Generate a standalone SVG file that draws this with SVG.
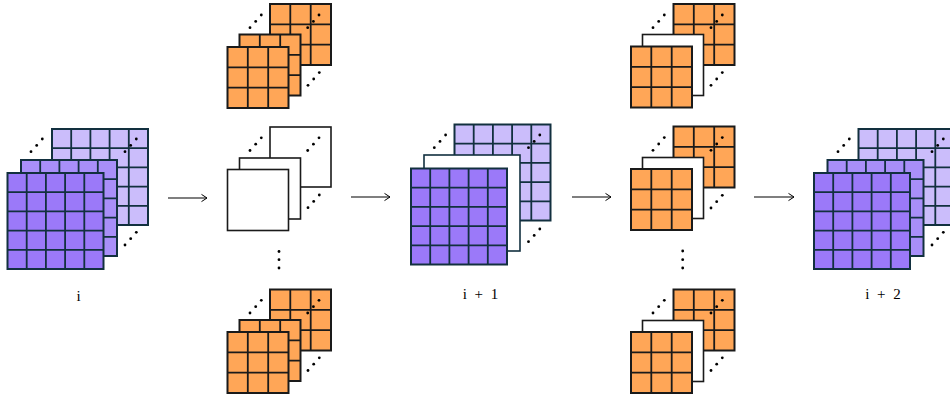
<svg xmlns="http://www.w3.org/2000/svg" width="950" height="395" viewBox="0 0 950 395">
  <style>
    .pf { fill: #9b79f9; stroke: #12303f; stroke-width: 2; }
    .pm { fill: #a98ff9; stroke: #12303f; stroke-width: 2; }
    .pb { fill: #cbbdfb; stroke: #12303f; stroke-width: 2; }
    .pg { fill: none; stroke: #12303f; stroke-width: 1.8; }
    .o  { fill: #ffa657; stroke: #1a1a1a; stroke-width: 2; }
    .og { fill: none; stroke: #1a1a1a; stroke-width: 1.8; }
    .w  { fill: #ffffff; stroke: #1a1a1a; stroke-width: 1.6; }
    .wt { fill: #ffffff; stroke: #12303f; stroke-width: 1.6; }
    .dot { fill: #000000; }
    .arr { fill: none; stroke: #000000; stroke-width: 1.1; }
    .lbl { font-family: "Liberation Serif", "DejaVu Serif", serif; font-size: 15px; fill: #000000; text-anchor: middle; word-spacing: 4px; }
  </style>
  <defs>
    <marker id="tip" viewBox="-7 -5 9 10" markerWidth="9" markerHeight="10" refX="0" refY="0" orient="auto" markerUnits="userSpaceOnUse">
      <path d="M-5.5,-3.6 Q-1.2,-0.8 0,0 Q-1.2,0.8 -5.5,3.6" fill="none" stroke="#000" stroke-width="1"/>
    </marker>
    <!-- 5x5 grid lines for a 96px layer -->
    <path id="g5" d="M19.2,0V96M38.4,0V96M57.6,0V96M76.8,0V96M0,19.2H96M0,38.4H96M0,57.6H96M0,76.8H96"/>
    <!-- 3x3 grid lines for a 61px layer -->
    <path id="g3" d="M20.3,0V61M40.7,0V61M0,20.3H61M0,40.7H61"/>
    <!-- three diagonal dots -->
    <g id="dd">
      <circle cx="0" cy="0" r="1.4"/>
      <circle cx="5.7" cy="-6.3" r="1.4"/>
      <circle cx="11.3" cy="-12.7" r="1.4"/>
    </g>
  </defs>

  <!-- stack i -->
  <g id="stack-i">
    <rect class="pb" x="52" y="129" width="96" height="96"/>
    <use href="#g5" class="pg" x="52" y="129"/>
    <use href="#dd" class="dot" x="125" y="151.7"/>
    <use href="#dd" class="dot" x="31" y="151.7"/>
    <use href="#dd" class="dot" x="125" y="245"/>
    <rect class="pm" x="21" y="160" width="96" height="96"/>
    <use href="#g5" class="pg" x="21" y="160"/>
    <rect class="pf" x="7.5" y="173" width="96" height="96"/>
    <use href="#g5" class="pg" x="7.5" y="173"/>
    <text class="lbl" x="78.5" y="301">i</text>
  </g>

  <!-- left column: top orange stack -->
  <g id="left-top">
    <rect class="o" x="270" y="4" width="61" height="61"/>
    <use href="#g3" class="og" x="270" y="4"/>
    <use href="#dd" class="dot" x="250" y="27.7"/>
    <use href="#dd" class="dot" x="307.7" y="27.7"/>
    <use href="#dd" class="dot" x="308" y="85.3"/>
    <rect class="o" x="239.5" y="34.5" width="61" height="61"/>
    <use href="#g3" class="og" x="239.5" y="34.5"/>
    <rect class="o" x="227.5" y="47" width="61" height="61"/>
    <use href="#g3" class="og" x="227.5" y="47"/>
  </g>

  <!-- left column: empty stack -->
  <g id="left-mid">
    <rect class="w" x="270" y="127" width="61" height="60"/>
    <use href="#dd" class="dot" x="250" y="150.5"/>
    <use href="#dd" class="dot" x="307.7" y="150.5"/>
    <use href="#dd" class="dot" x="308" y="207.7"/>
    <rect class="w" x="239.5" y="158" width="61" height="61"/>
    <rect class="w" x="227.5" y="169.5" width="61" height="61"/>
    <circle class="dot" cx="279" cy="251.5" r="1.4"/>
    <circle class="dot" cx="279" cy="259.7" r="1.4"/>
    <circle class="dot" cx="279" cy="268" r="1.4"/>
  </g>

  <!-- left column: bottom orange stack -->
  <g id="left-bottom">
    <rect class="o" x="270" y="289.5" width="61" height="61"/>
    <use href="#g3" class="og" x="270" y="289.5"/>
    <use href="#dd" class="dot" x="250" y="313"/>
    <use href="#dd" class="dot" x="307.7" y="313"/>
    <use href="#dd" class="dot" x="308" y="370.5"/>
    <rect class="o" x="239.5" y="320" width="61" height="61"/>
    <use href="#g3" class="og" x="239.5" y="320"/>
    <rect class="o" x="227.5" y="332" width="61" height="61"/>
    <use href="#g3" class="og" x="227.5" y="332"/>
  </g>

  <!-- stack i + 1 -->
  <g id="stack-i1">
    <rect class="pb" x="454.5" y="124.5" width="96" height="96"/>
    <use href="#g5" class="pg" x="454.5" y="124.5"/>
    <use href="#dd" class="dot" x="434.3" y="147.7"/>
    <use href="#dd" class="dot" x="528.5" y="147.7"/>
    <use href="#dd" class="dot" x="528.5" y="241.7"/>
    <rect class="wt" x="424" y="155" width="96" height="96"/>
    <rect class="pf" x="411" y="168.5" width="96" height="96"/>
    <use href="#g5" class="pg" x="411" y="168.5"/>
    <text class="lbl" x="480.5" y="299" xml:space="preserve">i + 1</text>
  </g>

  <!-- right column: top stack -->
  <g id="right-top">
    <rect class="o" x="673.5" y="4" width="61" height="61"/>
    <use href="#g3" class="og" x="673.5" y="4"/>
    <use href="#dd" class="dot" x="653" y="27.7"/>
    <use href="#dd" class="dot" x="711" y="27.7"/>
    <use href="#dd" class="dot" x="711" y="85.3"/>
    <rect class="w" x="642.5" y="34.5" width="61" height="61"/>
    <rect class="o" x="631" y="46.5" width="61" height="61"/>
    <use href="#g3" class="og" x="631" y="46.5"/>
  </g>

  <!-- right column: middle stack -->
  <g id="right-mid">
    <rect class="o" x="673.5" y="126.5" width="61" height="61"/>
    <use href="#g3" class="og" x="673.5" y="126.5"/>
    <use href="#dd" class="dot" x="653" y="150.3"/>
    <use href="#dd" class="dot" x="711" y="150.3"/>
    <use href="#dd" class="dot" x="711" y="208"/>
    <rect class="w" x="642.5" y="157.5" width="61" height="61"/>
    <rect class="o" x="631" y="169" width="61" height="61"/>
    <use href="#g3" class="og" x="631" y="169"/>
    <circle class="dot" cx="682.7" cy="251" r="1.4"/>
    <circle class="dot" cx="682.7" cy="259.7" r="1.4"/>
    <circle class="dot" cx="682.7" cy="268" r="1.4"/>
  </g>

  <!-- right column: bottom stack -->
  <g id="right-bottom">
    <rect class="o" x="673.5" y="289.5" width="61" height="61"/>
    <use href="#g3" class="og" x="673.5" y="289.5"/>
    <use href="#dd" class="dot" x="653" y="313"/>
    <use href="#dd" class="dot" x="711" y="313"/>
    <use href="#dd" class="dot" x="711" y="370.5"/>
    <rect class="w" x="642.5" y="320.5" width="61" height="61"/>
    <rect class="o" x="631" y="332" width="61" height="61"/>
    <use href="#g3" class="og" x="631" y="332"/>
  </g>

  <!-- stack i + 2 -->
  <g id="stack-i2">
    <rect class="pb" x="858.5" y="129" width="96" height="96"/>
    <use href="#g5" class="pg" x="858.5" y="129"/>
    <use href="#dd" class="dot" x="838" y="151.7"/>
    <use href="#dd" class="dot" x="932" y="151.7"/>
    <use href="#dd" class="dot" x="932" y="245"/>
    <rect class="pm" x="827.5" y="160" width="96" height="96"/>
    <use href="#g5" class="pg" x="827.5" y="160"/>
    <rect class="pf" x="814" y="173" width="96" height="96"/>
    <use href="#g5" class="pg" x="814" y="173"/>
    <text class="lbl" x="883" y="299" xml:space="preserve">i + 2</text>
  </g>

  <!-- connectors -->
  <g id="connectors">
    <line class="arr" x1="168" y1="198" x2="207" y2="198" marker-end="url(#tip)"/>
    <line class="arr" x1="351" y1="197" x2="390" y2="197" marker-end="url(#tip)"/>
    <line class="arr" x1="572" y1="197" x2="611" y2="197" marker-end="url(#tip)"/>
    <line class="arr" x1="754" y1="197" x2="794" y2="197" marker-end="url(#tip)"/>
  </g>
</svg>
